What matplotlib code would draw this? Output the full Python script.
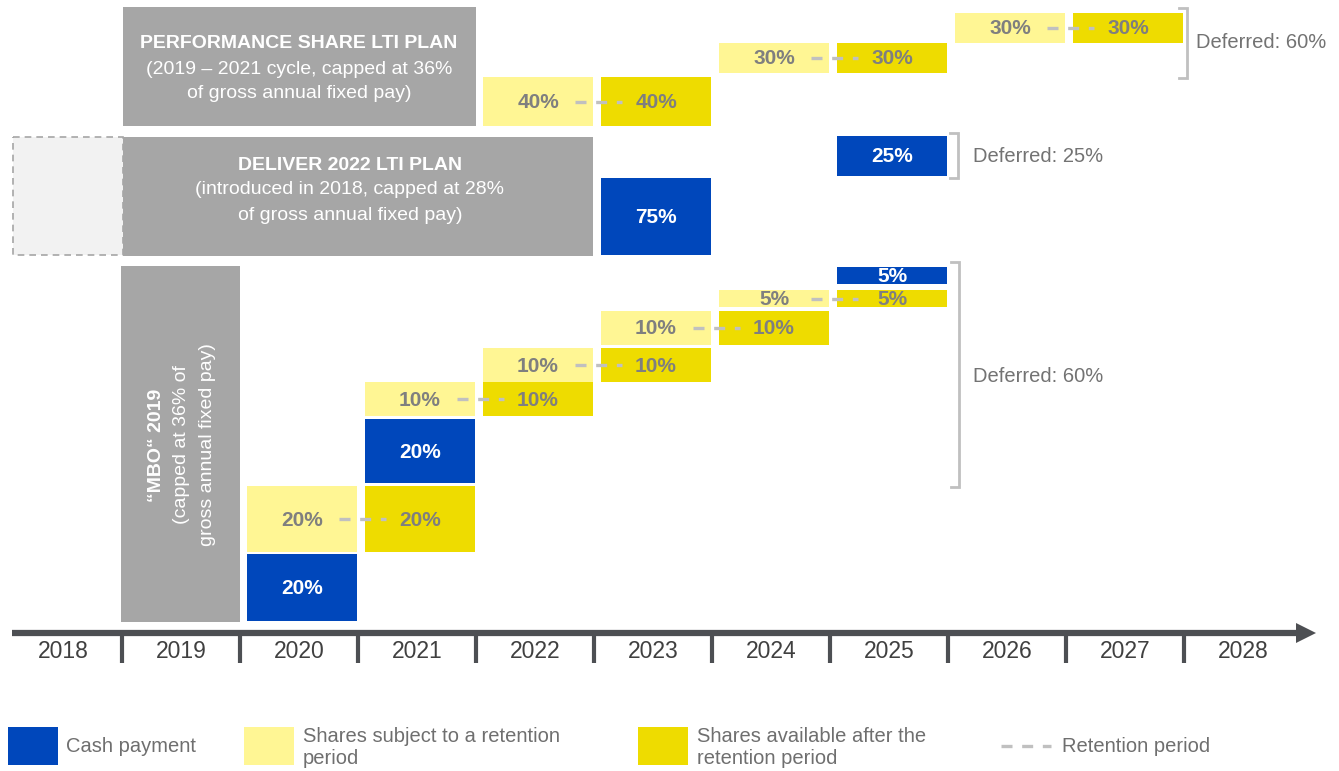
import matplotlib
matplotlib.use('Agg')
import matplotlib.pyplot as plt
from matplotlib.patches import Rectangle, Polygon

plt.rcParams['font.family'] = ['Liberation Sans', 'DejaVu Sans']

'''
数据
'''
years = list(range(2018, 2029))

# 现金支付
cash_years = [2020, 2021, 2023, 2025, 2025]
cash_labels = ['20%', '20%', '75%', '25%', '5%']
# 保留期内的股份
ret_years = [2020, 2021, 2022, 2023, 2024, 2022, 2024, 2026]
ret_labels = ['20%', '10%', '10%', '10%', '5%', '40%', '30%', '30%']
# 保留期后可用的股份
avail_years = [2021, 2022, 2023, 2024, 2025, 2023, 2025, 2027]
avail_labels = ['20%', '10%', '10%', '10%', '5%', '40%', '30%', '30%']

deferred_labels = ['Deferred: 60%', 'Deferred: 25%', 'Deferred: 60%']

perf_lines = ['PERFORMANCE SHARE LTI PLAN', '(2019 – 2021 cycle, capped at 36%',
              'of gross annual fixed pay)']
deliver_lines = ['DELIVER 2022 LTI PLAN', '(introduced in 2018, capped at 28%',
                 'of gross annual fixed pay)']
mbo_lines = ['“MBO“ 2019', '(capped at 36% of', 'gross annual fixed pay)']

'''
布局 (像素行: 上, 下)
'''
cash_rows = [(554, 621), (419, 483), (178, 255), (136, 176), (267, 284)]
ret_rows = [(486, 552), (382, 416), (348, 382), (311, 345), (290, 307),
            (77, 126), (43, 73), (13, 43)]
avail_rows = ret_rows

BLUE = '#0047bb'
LIGHT = '#fff694'
DARK = '#eedc00'
GREY = '#a6a6a6'
TXT = '#7f7f7f'
AXC = '#4d4f53'

W, H = 1339, 771
YEAR_W = 118.0


def px(x):
    # 像素 x -> 年份坐标
    return 2018 + (x - 63) / YEAR_W


fig = plt.figure(figsize=(W / 100, H / 100), dpi=100)
ax = fig.add_axes([0, 0, 1, 1])
ax.set_xlim(px(0), px(W))
ax.set_ylim(H, 0)
ax.axis('off')

bw = 110 / YEAR_W
shift = 3 / YEAR_W


def bar(year, row, color, label, tcolor):
    top, bot = row
    xc = year + shift
    ax.add_patch(Rectangle((xc - bw / 2, top), bw, bot - top, facecolor=color,
                           edgecolor='none', zorder=2))
    ax.text(xc, (top + bot) / 2 + 1, label, ha='center', va='center',
            fontsize=15, fontweight='bold', color=tcolor, zorder=4)


for y, r, l in zip(cash_years, cash_rows, cash_labels):
    bar(y, r, BLUE, l, 'white')
for y, r, l in zip(ret_years, ret_rows, ret_labels):
    bar(y, r, LIGHT, l, TXT)
    yc = (r[0] + r[1]) / 2
    ax.plot([y + shift + 0.31, y + shift + 1 - 0.29], [yc, yc], color='#c0c0c0', lw=2.4,
            dashes=(3.3, 2.9), solid_capstyle='butt', zorder=3)
for y, r, l in zip(avail_years, avail_rows, avail_labels):
    bar(y, r, DARK, l, TXT)

# 计划方框
ax.add_patch(Rectangle((px(123), 7), px(476) - px(123), 119, facecolor=GREY,
                       edgecolor='none', zorder=1))
for i, (l, yy) in enumerate(zip(perf_lines, [43, 69, 94])):
    ax.text(px(299), yy, l, ha='center', va='center', fontsize=14, color='white',
            fontweight='bold' if i == 0 else 'normal')

ax.add_patch(Rectangle((px(13), 137), px(123) - px(13), 118, facecolor='#f2f2f2',
                       edgecolor=GREY, lw=1.2, ls=(0, (4, 3)), zorder=1))
ax.add_patch(Rectangle((px(123), 137), px(593) - px(123), 119, facecolor=GREY,
                       edgecolor='none', zorder=1))
for i, (l, yy) in enumerate(zip(deliver_lines, [165, 190, 215])):
    ax.text(px(350), yy, l, ha='center', va='center', fontsize=14, color='white',
            fontweight='bold' if i == 0 else 'normal')

ax.add_patch(Rectangle((px(121), 266), px(240) - px(121), 356, facecolor=GREY,
                       edgecolor='none', zorder=1))
for i, (l, xx) in enumerate(zip(mbo_lines, [157, 182, 208])):
    ax.text(px(xx), 445, l, ha='center', va='center', rotation=90, fontsize=14,
            color='white', fontweight='bold' if i == 0 else 'normal')

# 括号
for xb, t, b in [(1187, 8, 78), (958, 133, 178), (959, 262, 487)]:
    ax.plot([px(xb - 8), px(xb), px(xb), px(xb - 8)], [t, t, b, b],
            color='#c0c0c0', lw=2, solid_joinstyle='miter', zorder=3)
for (xt, yt), l in zip([(1196, 43), (973, 157), (973, 376)], deferred_labels):
    ax.text(px(xt), yt, l, ha='left', va='center', fontsize=14.5, color='#737373')

# 时间轴
ax.plot([px(12), px(1300)], [633, 633], color=AXC, lw=4.5, solid_capstyle='butt')
ax.add_patch(Polygon([(px(1296), 623), (px(1316), 633), (px(1296), 643)],
                     closed=True, facecolor=AXC, edgecolor='none'))
for yr in years[:-1]:
    ax.plot([yr + 0.5, yr + 0.5], [635, 663], color=AXC, lw=3, solid_capstyle='butt')
for yr in years:
    ax.text(yr, 652, str(yr), ha='center', va='center', fontsize=16.5, color='#404040')

# 图例
leg_c = '#6f6f6f'
for x0, c in [(8, BLUE), (244, LIGHT), (638, DARK)]:
    ax.add_patch(Rectangle((px(x0), 727), px(x0 + 50) - px(x0), 38, facecolor=c,
                           edgecolor='none'))
ax.text(px(66), 747, 'Cash payment', ha='left', va='center', fontsize=14.5, color=leg_c)
ax.text(px(303), 747, 'Shares subject to a retention\nperiod', ha='left', va='center',
        fontsize=14.5, color=leg_c, linespacing=1.2)
ax.text(px(697), 747, 'Shares available after the\nretention period', ha='left',
        va='center', fontsize=14.5, color=leg_c, linespacing=1.2)
ax.plot([px(1001), px(1051)], [746, 746], color='#c0c0c0', lw=2.4, dashes=(3.3, 2.9))
ax.text(px(1062), 747, 'Retention period', ha='left', va='center', fontsize=14.5,
        color=leg_c)

plt.savefig('out.png', dpi=100)
